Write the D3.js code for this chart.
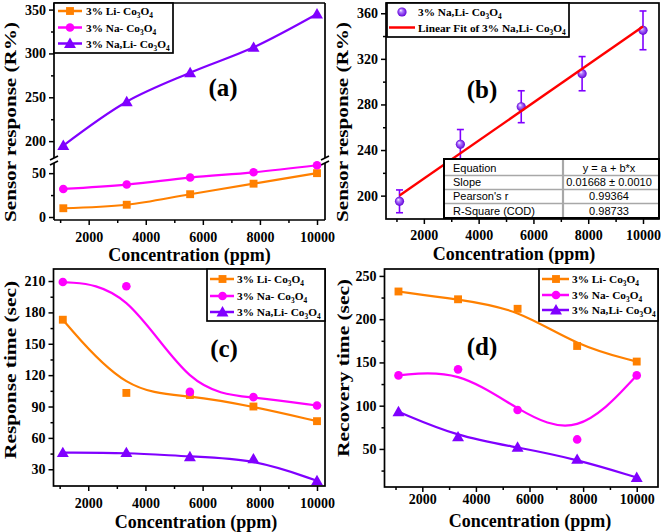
<!DOCTYPE html>
<html><head><meta charset="utf-8">
<script src="https://cdn.jsdelivr.net/npm/d3@7"></script>
<style>
body{margin:0;background:#fff;}
svg{display:block;}
svg text{font-family:"Liberation Serif","Times New Roman",Times,serif;font-weight:bold;}
svg text.sans{font-family:"Liberation Sans",Arial,Helvetica,sans-serif;font-weight:normal;}
</style>
</head><body>
<script>
// ---------- data ----------
const conc = [1111, 3333, 5555, 7777, 10000];
const xTicks = [2000, 4000, 6000, 8000, 10000];
const xMinor = [1000, 3000, 5000, 7000, 9000];
const seriesNames = ["3% Li- Co3O4", "3% Na- Co3O4", "3% Na,Li- Co3O4"];
const fitName = "Linear Fit of 3% Na,Li- Co3O4";
const colors = ["#FF8000", "#FF00FF", "#8000FF"];
const shapes = [d3.symbolSquare, d3.symbolCircle, d3.symbolTriangle];

// (a) sensor response
const respLi = [10, 14, 26, 38, 50];
const respNa = [32, 37, 45, 51, 59];
const respNaLi = [195, 245, 278, 307, 345];
const aUpperTicks = [200, 250, 300, 350], aUpperMinor = [225, 275, 325];
const aLowerTicks = [0, 50], aLowerMinor = [25];

// (b) linear fit
const errNaLi = [10, 13, 14, 15, 17];
const fitSlope = 0.01668, fitIntercept = 181.5;
const bTicks = [200, 240, 280, 320, 360], bMinor = [220, 260, 300, 340];
const tableRows = [["Equation", "y = a + b*x"], ["Slope", "0.01668 \u00b1 0.0010"], ["Pearson's r", "0.99364"], ["R-Square (COD)", "0.98733"]];

// (c) response time
const rtLi = [173, 103, 101, 90, 76];
const rtNa = [209, 205, 104, 99, 91];
const rtNaLi = [46, 46, 42, 40, 19];
const cTicks = [30, 60, 90, 120, 150, 180, 210], cMinor = [45, 75, 105, 135, 165, 195];

// (d) recovery time
const rcLi = [232, 223, 212, 169, 151];
const rcNa = [135, 142, 95, 61, 135];
const rcNaLi = [93, 64, 52, 38, 17];
const dTicks = [50, 100, 150, 200, 250], dMinor = [25, 75, 125, 175, 225];

// ---------- helpers ----------
const svg = d3.select("body").append("svg").attr("width", 661).attr("height", 532);
svg.append("rect").attr("width", 661).attr("height", 532).attr("fill", "#fff");
const defs = svg.append("defs");
const rg = defs.append("radialGradient").attr("id", "ball").attr("cx", "50%").attr("cy", "50%").attr("r", "50%").attr("fx", "35%").attr("fy", "30%");
rg.append("stop").attr("offset", "0%").attr("stop-color", "#ffffff");
rg.append("stop").attr("offset", "35%").attr("stop-color", "#b07cff");
rg.append("stop").attr("offset", "100%").attr("stop-color", "#6200d8");

const LFS = 11.3;
function T(sel) { return sel.append("text"); }
function rich(t, str, fs) {
  const i = str.indexOf("Co3O4");
  const pre = str.slice(0, i), post = str.slice(i + 5);
  t.append("tspan").text(pre + "Co");
  t.append("tspan").attr("dy", fs * 0.28).style("font-size", (fs * 0.65) + "px").text("3");
  t.append("tspan").attr("dy", -fs * 0.28).text("O");
  t.append("tspan").attr("dy", fs * 0.28).style("font-size", (fs * 0.65) + "px").text("4");
  if (post) t.append("tspan").attr("dy", -fs * 0.28).text(post);
}
function styleAxis(sel) {
  sel.select(".domain").remove();
  sel.attr("font-family", null).attr("font-size", null);
  sel.selectAll(".tick line").attr("stroke", "#000").attr("stroke-width", 1.5);
  sel.selectAll(".tick text").style("font-size", "14px").attr("fill", "#000");
}
function bottomAxis(x, y, pad) {
  svg.append("g").attr("transform", `translate(0,${y})`).call(d3.axisBottom(x).tickValues(xMinor).tickSize(3).tickFormat("")).call(styleAxis);
  svg.append("g").attr("transform", `translate(0,${y})`).call(d3.axisBottom(x).tickValues(xTicks).tickSize(5).tickPadding(pad).tickFormat(d3.format("d"))).call(styleAxis);
}
function leftAxis(y, x0, major, minor) {
  svg.append("g").attr("transform", `translate(${x0},0)`).call(d3.axisLeft(y).tickValues(minor).tickSize(3).tickFormat("")).call(styleAxis);
  svg.append("g").attr("transform", `translate(${x0},0)`).call(d3.axisLeft(y).tickValues(major).tickSize(5).tickPadding(3).tickFormat(d3.format("d"))).call(styleAxis);
}
function frame(x0, y0, x1, y1) {
  svg.append("rect").attr("x", x0).attr("y", y0).attr("width", x1 - x0).attr("height", y1 - y0).attr("fill", "none").attr("stroke", "#000").attr("stroke-width", 1.7);
}
function xTitle(xc, y) {
  T(svg).attr("x", xc).attr("y", y).attr("text-anchor", "middle").style("font-size", "18px").text("Concentration (ppm)");
}
function yTitle(xb, yc, s, len) {
  T(svg).attr("transform", `translate(${xb},${yc}) rotate(-90)`).attr("text-anchor", "middle")
    .style("font-size", "17.5px").attr("textLength", len).attr("lengthAdjust", "spacingAndGlyphs").text(s);
}
function panelLabel(x, y, s) {
  T(svg).attr("x", x).attr("y", y).attr("text-anchor", "middle").style("font-size", "25px").text(s);
}
const symSize = [62, 58, 62];
function series(x, y, vals, k, curve) {
  svg.append("path").datum(vals).attr("fill", "none").attr("stroke", colors[k]).attr("stroke-width", 2.2)
    .attr("d", d3.line().x((d, i) => x(conc[i])).y(d => y(d)).curve(curve));
  svg.append("g").selectAll("path").data(vals).join("path")
    .attr("transform", (d, i) => `translate(${x(conc[i])},${y(d) + (k === 2 ? 1 : 0)})`)
    .attr("d", d3.symbol(shapes[k], symSize[k])).attr("fill", colors[k]);
}
function legend(bx0, by0, bx1, by1, ys, lx0, lx1, mx, tx) {
  svg.append("rect").attr("x", bx0).attr("y", by0).attr("width", bx1 - bx0).attr("height", by1 - by0).attr("fill", "#fff").attr("stroke", "#000").attr("stroke-width", 1.7);
  seriesNames.forEach((nm, k) => {
    svg.append("line").attr("x1", lx0).attr("x2", lx1).attr("y1", ys[k]).attr("y2", ys[k]).attr("stroke", colors[k]).attr("stroke-width", 2.5);
    svg.append("path").attr("transform", `translate(${mx},${ys[k] + (k === 2 ? 1 : 0)})`).attr("d", d3.symbol(shapes[k], symSize[k])).attr("fill", colors[k]);
    const t = T(svg).attr("x", tx).attr("y", ys[k] + 4).style("font-size", LFS + "px");
    rich(t, nm, LFS);
  });
}

// ---------- panel (a) ----------
{
  const x0 = 54, x1 = 325, y0 = 3, y1 = 220;
  const x = d3.scaleLinear().domain([785, 10280]).range([x0, x1]);
  const yU = d3.scaleLinear().domain([178.5, 357.5]).range([160, y0]);
  const yL = d3.scaleLinear().domain([-3.4, 65]).range([y1, 160]);
  const ln = (a, b, c, d) => svg.append("line").attr("x1", a).attr("y1", b).attr("x2", c).attr("y2", d).attr("stroke", "#000").attr("stroke-width", 1.7);
  ln(x0, y0, x1, y0); ln(x0, y1, x1, y1);
  [x0, x1].forEach(xx => {
    ln(xx, y0, xx, 158); ln(xx, 163, xx, y1);
    ln(xx - 4, 160, xx + 4, 156); ln(xx - 4, 165, xx + 4, 161);
  });
  bottomAxis(x, y1, 7);
  leftAxis(yU, x0, aUpperTicks, aUpperMinor);
  leftAxis(yL, x0, aLowerTicks, aLowerMinor);
  series(x, yL, respLi, 0, d3.curveCatmullRom);
  series(x, yL, respNa, 1, d3.curveCatmullRom);
  series(x, yU, respNaLi, 2, d3.curveCatmullRom);
  legend(x0, y0, 173, 53, [11, 27.5, 43.5], 58, 82, 70, 86);
  panelLabel(223, 96, "(a)");
  xTitle(189.5, 261);
  yTitle(15.5, 122, "Sensor response (R%)", 200);
}

// ---------- panel (b) ----------
{
  const x0 = 386, x1 = 659, y0 = 3, y1 = 219;
  const x = d3.scaleLinear().domain([618, 10584]).range([x0, x1]);
  const y = d3.scaleLinear().domain([179.5, 369]).range([y1, y0]);
  bottomAxis(x, y1, 6);
  leftAxis(y, x0, bTicks, bMinor);
  const eb = svg.append("g").attr("stroke", "#8000FF").attr("stroke-width", 1.6);
  respNaLi.forEach((v, i) => {
    const cx = x(conc[i]);
    eb.append("line").attr("x1", cx).attr("x2", cx).attr("y1", y(v - errNaLi[i])).attr("y2", y(v + errNaLi[i]));
    [v - errNaLi[i], v + errNaLi[i]].forEach(e => eb.append("line").attr("x1", cx - 3.5).attr("x2", cx + 3.5).attr("y1", y(e)).attr("y2", y(e)));
  });
  svg.append("g").selectAll("circle").data(respNaLi).join("circle")
    .attr("cx", (d, i) => x(conc[i])).attr("cy", d => y(d)).attr("r", 4.6).attr("fill", "url(#ball)");
  const xa = conc[0], xb = conc[conc.length - 1];
  svg.append("line").attr("x1", x(xa)).attr("y1", y(fitIntercept + fitSlope * xa)).attr("x2", x(xb)).attr("y2", y(fitIntercept + fitSlope * xb))
    .attr("stroke", "#FF0000").attr("stroke-width", 2.4);
  const tx0 = 444, tx1 = 659, tcol = 563;
  const rowB = [159, 175.5, 189.5, 203.5, 218];
  svg.append("rect").attr("x", tx0).attr("y", rowB[0]).attr("width", tx1 - tx0).attr("height", rowB[4] - rowB[0]).attr("fill", "#fff");
  for (let r = 1; r < 4; r++) svg.append("line").attr("x1", tx0).attr("x2", tx1).attr("y1", rowB[r]).attr("y2", rowB[r]).attr("stroke", "#a8a8a8").attr("stroke-width", 1.6);
  svg.append("line").attr("x1", tcol).attr("x2", tcol).attr("y1", rowB[0]).attr("y2", rowB[4]).attr("stroke", "#a8a8a8").attr("stroke-width", 2.2);
  svg.append("rect").attr("x", tx0).attr("y", rowB[0]).attr("width", tx1 - tx0).attr("height", rowB[4] - rowB[0]).attr("fill", "none").attr("stroke", "#000").attr("stroke-width", 2);
  tableRows.forEach((row, r) => {
    const by = rowB[r + 1] - 3.5;
    T(svg).attr("class", "sans").attr("x", 453).attr("y", by).style("font-size", "11px").text(row[0]);
    T(svg).attr("class", "sans").attr("x", 609).attr("y", by).attr("text-anchor", "middle").style("font-size", "11px").text(row[1]);
  });
  frame(x0, y0, x1, y1);
  svg.append("rect").attr("x", 387).attr("y", y0).attr("width", 182).attr("height", 34).attr("fill", "#fff").attr("stroke", "#000").attr("stroke-width", 1.7);
  svg.append("circle").attr("cx", 402).attr("cy", 12).attr("r", 4.6).attr("fill", "url(#ball)");
  rich(T(svg).attr("x", 418).attr("y", 16).style("font-size", LFS + "px"), seriesNames[2], LFS);
  svg.append("line").attr("x1", 389).attr("x2", 415).attr("y1", 27.5).attr("y2", 27.5).attr("stroke", "#FF0000").attr("stroke-width", 2.5);
  rich(T(svg).attr("x", 418).attr("y", 31.5).style("font-size", LFS + "px"), fitName, LFS);
  panelLabel(482, 98, "(b)");
  xTitle(514, 259.5);
  yTitle(348, 122, "Sensor response (R%)", 200);
}

// ---------- panel (c) ----------
{
  const x0 = 53.5, x1 = 325, y0 = 269, y1 = 486;
  const x = d3.scaleLinear().domain([785, 10280]).range([x0, x1]);
  const y = d3.scaleLinear().domain([14, 221.5]).range([y1, y0]);
  bottomAxis(x, y1, 7.5);
  leftAxis(y, x0, cTicks, cMinor);
  series(x, y, rtLi, 0, d3.curveBasis);
  series(x, y, rtNa, 1, d3.curveBasis);
  series(x, y, rtNaLi, 2, d3.curveBasis);
  frame(x0, y0, x1, y1);
  legend(207, y0, x1, 321, [279, 296, 312], 210, 234, 222.5, 237);
  panelLabel(224, 357, "(c)");
  xTitle(196, 527.5);
  yTitle(16, 370, "Response time (sec)", 178);
}

// ---------- panel (d) ----------
{
  const x0 = 384.5, x1 = 658, y0 = 269, y1 = 487;
  const x = d3.scaleLinear().domain([589, 10794]).range([x0, x1]);
  const y = d3.scaleLinear().domain([6, 258]).range([y1, y0]);
  bottomAxis(x, y1, 2);
  leftAxis(y, x0, dTicks, dMinor);
  series(x, y, rcLi, 0, d3.curveBasis);
  series(x, y, rcNa, 1, d3.curveBasis);
  series(x, y, rcNaLi, 2, d3.curveBasis);
  frame(x0, y0, x1, y1);
  legend(539, y0, x1, 321, [279, 295, 310], 542, 569, 556, 572);
  panelLabel(482, 355, "(d)");
  xTitle(530, 527);
  yTitle(349, 368, "Recovery time (sec)", 178);
}
</script>
</body></html>
